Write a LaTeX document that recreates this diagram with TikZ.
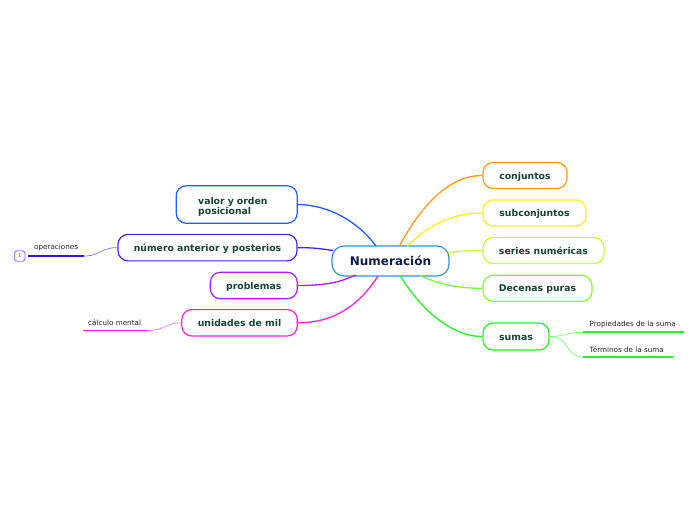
\documentclass[tikz,border=0pt]{standalone}
\usepackage{fontspec}
\setmainfont{DejaVu Sans}
\begin{document}
\begin{tikzpicture}[x=1pt,y=-1pt]
\definecolor{txtg}{RGB}{22,68,52}
\definecolor{txtc}{RGB}{14,30,74}
\definecolor{ccen}{RGB}{58,145,210}
\definecolor{corange}{RGB}{255,155,25}
\definecolor{cyellow}{RGB}{255,238,34}
\definecolor{clime}{RGB}{200,255,50}
\definecolor{cygreen}{RGB}{130,255,50}
\definecolor{cgreen}{RGB}{40,245,40}
\definecolor{cblue}{RGB}{30,95,255}
\definecolor{cindigo}{RGB}{70,35,240}
\definecolor{cviolet}{RGB}{170,35,240}
\definecolor{cmag}{RGB}{255,35,220}
\definecolor{cdblue}{RGB}{50,20,235}
\definecolor{cbox}{RGB}{140,110,255}
\tikzset{
  topic/.style={draw, fill=white, rounded corners=10pt, line width=1.2pt, text=txtg,
    font=\fontsize{9.3}{10.5}\selectfont\bfseries, inner sep=0pt},
  oneline/.style={text height=8.5pt, text depth=1.5pt},
  conn/.style={line width=1.3pt},
  subconn/.style={line width=0.7pt},
  subline/.style={line width=1.8pt},
  subtext/.style={font=\fontsize{7.2}{8.5}\selectfont, text=black!85, anchor=south west, inner sep=0pt}
}
\path[fill=white] (0,0) rectangle (696,520);
\useasboundingbox (0,0) rectangle (696,520);

% central
\node[draw=ccen, fill=white, rounded corners=12pt, line width=1.2pt, text=txtc,
  font=\fontsize{12}{14}\selectfont\bfseries, minimum width=117pt, minimum height=30pt, inner sep=0pt,
  text height=11pt, text depth=2pt]
  (C) at (390.5,261) {Numeración};

% right topics
\node[topic, oneline, draw=corange, minimum width=84pt, minimum height=26pt] (t1) at (525,175.5) {conjuntos};
\node[topic, oneline, draw=cyellow, minimum width=103pt, minimum height=26pt] (t2) at (534.5,213) {subconjuntos};
\node[topic, oneline, draw=clime, minimum width=121pt, minimum height=26pt] (t3) at (543.5,250.5) {series numéricas};
\node[topic, oneline, draw=cygreen, minimum width=109pt, minimum height=26pt] (t4) at (537.5,288.3) {Decenas puras};
\node[topic, oneline, draw=cgreen, minimum width=66pt, minimum height=27pt] (t5) at (516,336.5) {sumas};

% left topics
\node[topic, draw=cblue, minimum width=121pt, minimum height=37.5pt, text width=77pt, align=left,
  text height=11.5pt, text depth=12.5pt] (l1) at (236.7,204.5) {valor y orden\\posicional};
\node[topic, oneline, draw=cindigo, minimum width=179pt, minimum height=26.5pt] (l2) at (207.5,247.6) {número anterior y posterios};
\node[topic, oneline, draw=cviolet, minimum width=87pt, minimum height=26.4pt] (l3) at (253.8,285.5) {problemas};
\node[topic, oneline, draw=cmag, minimum width=115.5pt, minimum height=26.4pt] (l4) at (239.5,322.8) {unidades de mil};

% anchor coordinates on the central topic
\coordinate (a1) at (399,246.5);
\coordinate (a2) at (407,246.5);
\coordinate (a3) at (448.5,252.5);
\coordinate (a4) at (420,275.5);
\coordinate (a5) at (400,275.5);
\coordinate (b1) at (376,246);
\coordinate (b2) at (333,250.5);
\coordinate (b3) at (356,275);
\coordinate (b4) at (378,276);

% main connectors
\draw[conn, corange] (a1) .. controls (418,212) and (445,175.5) .. (t1.west);
\draw[conn, cyellow] (a2) .. controls (430,223) and (455,213) .. (t2.west);
\draw[conn, clime] (a3) .. controls (462,251) and (470,250.5) .. (t3.west);
\draw[conn, cygreen] (a4) .. controls (440,285) and (460,288.3) .. (t4.west);
\draw[conn, cgreen] (a5) .. controls (420,308) and (450,336.5) .. (t5.west);
\draw[conn, cblue] (l1.east) .. controls (330,205) and (358,222) .. (b1);
\draw[conn, cindigo] (l2.east) .. controls (315,247.6) and (322,249) .. (b2);
\draw[conn, cviolet] (l3.east) .. controls (330,285.5) and (342,281) .. (b3);
\draw[conn, cmag] (l4.east) .. controls (342,322.8) and (365,296) .. (b4);

% sub topics
\coordinate (o1) at (84,256);
\coordinate (o0) at (28,256);
\draw[subline, cdblue] (o0) -- (o1);
\draw[subconn, cindigo!65] (l2.west) .. controls (100,247.6) and (101,256) .. (o1);
\node[subtext] (ot) at (34,251.5) {operaciones};
\node[draw=cbox, line width=0.9pt, rounded corners=2.5pt, minimum width=10.5pt, minimum height=10.5pt,
  inner sep=0pt, font=\fontsize{5}{6}\selectfont, text=cbox!80!black] (n1) at (19.7,256) {1};

\coordinate (m1) at (148,330.5);
\coordinate (m0) at (83,330.5);
\draw[subline, cmag] (m0) -- (m1);
\draw[subconn, cmag!60] (l4.west) .. controls (165,322.8) and (165,330.5) .. (m1);
\node[subtext] (mt) at (88,326) {cálculo mental};

\coordinate (p1) at (583,332.3);
\coordinate (p2) at (684,332.3);
\draw[subline, cgreen] (p1) -- (p2);
\draw[subconn, cgreen!60] (t5.east) .. controls (566,336.5) and (566,332.3) .. (p1);
\node[subtext] (pt) at (589.5,327.8) {Propiedades de la suma};

\coordinate (q1) at (583,357);
\coordinate (q2) at (673,357);
\draw[subline, cgreen] (q1) -- (q2);
\draw[subconn, cgreen!60] (t5.east) .. controls (570,336.5) and (565,357) .. (q1);
\node[subtext] (qt) at (589.5,352.5) {Términos de la suma};
\end{tikzpicture}
\end{document}
